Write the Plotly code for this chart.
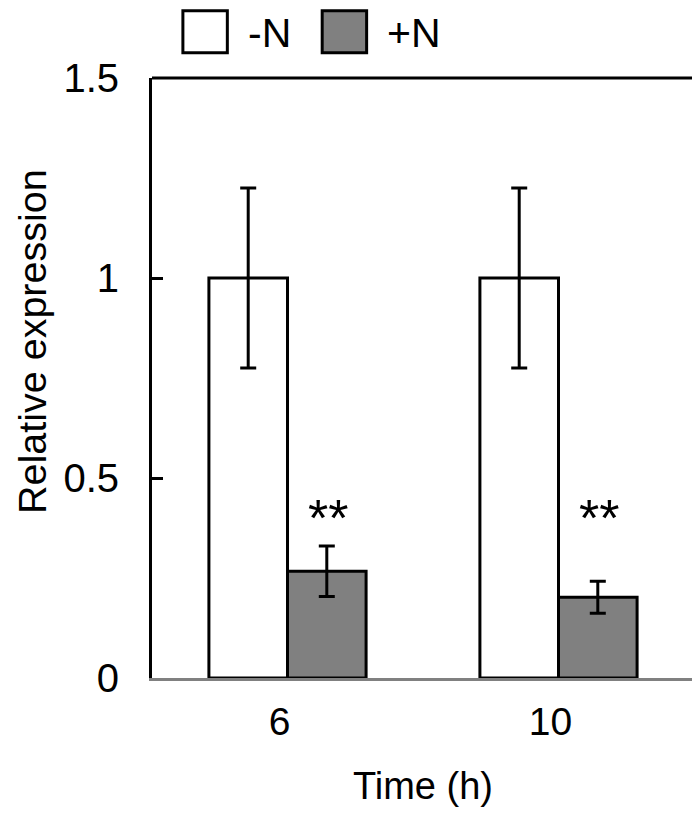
import plotly.graph_objects as go

# data
times = ["6", "10"]
series = ["-N", "+N"]
colors = ["#ffffff", "#808080"]
minus_n = [1.0, 1.0]
minus_n_err = [0.225, 0.225]
plus_n = [0.267, 0.202]
plus_n_err = [0.063, 0.04]
stars = ["**", "**"]
y_ticks = [0, 0.5, 1, 1.5]
y_tick_labels = ["0", "0.5", "1", "1.5"]

font = "Liberation Sans, Arial, sans-serif"

fig = go.Figure()
for name, color, vals, errs in zip(series, colors, [minus_n, plus_n], [minus_n_err, plus_n_err]):
    fig.add_bar(
        x=times,
        y=vals,
        name=name,
        marker=dict(color=color, line=dict(color="black", width=3)),
        error_y=dict(type="data", array=errs, color="black", thickness=3, width=8),
        showlegend=False,
    )

# significance stars above the +N bars (category index, shifted onto the +N bar)
for i, s in enumerate(stars):
    fig.add_annotation(
        x=i, y=0.40, text=s, showarrow=False, xshift=40,
        font=dict(family=font, size=52, color="black"),
        yanchor="middle",
    )

# hand-drawn legend (large boxes like the original)
legend_x = [0.057, 0.314]
for lx, name, color in zip(legend_x, series, colors):
    fig.add_shape(
        type="rect", xref="paper", yref="paper",
        x0=lx, x1=lx + 0.082, y0=1.042, y1=1.112,
        line=dict(color="black", width=3), fillcolor=color,
    )
    fig.add_annotation(
        xref="paper", yref="paper", x=lx + 0.116, y=1.075,
        text=name, showarrow=False, xanchor="left", yanchor="middle",
        font=dict(family=font, size=41, color="black"),
    )

# top border of the frame
fig.add_shape(type="line", xref="paper", yref="paper", x0=0, x1=1, y0=1, y1=1,
              line=dict(color="black", width=3))

# y axis title (sits a little above centre)
fig.add_annotation(
    xref="paper", yref="paper", x=0, y=0.56, xshift=-120, xanchor="center",
    text="Relative expression", textangle=-90, showarrow=False,
    font=dict(family=font, size=39.5, color="black"),
)

# page body adds 8px, so the figure is a bit smaller and margins shifted
fig.update_layout(
    width=692,
    height=811,
    margin=dict(l=144, r=3, t=70, b=141),
    paper_bgcolor="white",
    plot_bgcolor="white",
    barmode="group",
    bargap=0.42,
    bargroupgap=0,
    font=dict(family=font, size=39, color="black"),
)
fig.update_xaxes(
    type="category", range=[-0.5, 1.5],
    showline=True, linecolor="#808080", linewidth=3,
    ticks="", showgrid=False, ticklabelshift=-8, ticklabelstandoff=7,
    title=dict(text="Time (h)", standoff=31,
               font=dict(family=font, size=38, color="black")),
)
fig.update_yaxes(
    range=[0, 1.5], tickvals=y_ticks, ticktext=y_tick_labels,
    showline=True, linecolor="black", linewidth=3, mirror=True,
    ticks="inside", ticklen=11, tickwidth=3, tickcolor="black",
    ticklabelstandoff=22, showgrid=False, zeroline=False,
    tickfont=dict(size=40),
)

fig.write_html("out.html")
